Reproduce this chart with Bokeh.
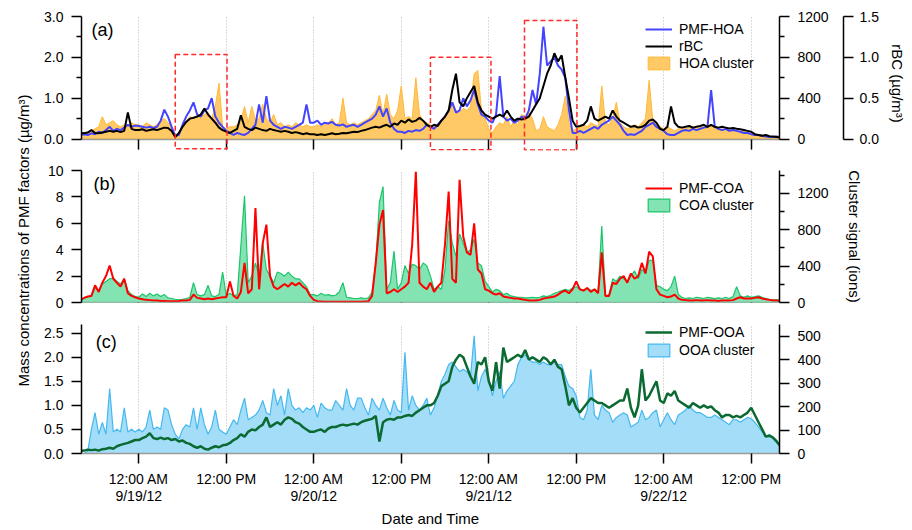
import numpy as np
from bokeh.plotting import figure
from bokeh.models import (Range1d, LinearAxis, FixedTicker, PrintfTickFormatter,
                          Legend, LegendItem, BoxAnnotation, Label)
from bokeh.layouts import column, row
from bokeh.embed import file_html
from bokeh.resources import INLINE

FONT = "Liberation Sans"

# ---------------- data (hours after 2012-09-18 00:00, 30-min steps) ----------------
T_START, T_STEP = 16.0, 0.5

PMF_HOA = [  # ug/m3
    0.10,0.12,0.10,0.14,0.12,0.18,0.15,0.22,0.30,0.20,0.25,0.22,0.28,0.35,0.30,0.33,
    0.32,0.30,0.28,0.30,0.27,0.30,0.45,0.72,0.55,0.30,0.08,0.10,0.35,0.55,0.70,0.90,0.60,0.55,0.70,0.75,1.00,0.55,0.40,0.30,
    0.20,0.15,0.10,0.15,0.12,0.10,0.15,0.25,0.35,0.85,0.40,1.05,0.45,0.35,0.30,0.25,0.30,0.28,0.25,0.30,0.35,0.40,0.85,0.40,
    0.40,0.45,0.35,0.40,0.38,0.42,0.35,0.33,0.36,0.30,0.33,0.35,0.30,0.35,0.40,0.45,0.50,0.60,0.80,0.55,0.75,0.40,0.25,0.18,
    0.18,0.15,0.20,0.18,0.22,0.20,0.25,0.35,0.30,0.25,0.35,0.45,0.55,0.70,0.90,0.65,0.70,1.00,0.80,0.95,1.20,0.85,0.60,0.55,
    0.45,0.40,0.60,1.54,0.55,0.45,0.50,0.40,0.45,0.55,0.50,0.70,1.20,0.85,1.60,2.75,1.80,1.90,2.00,1.80,1.70,1.50,0.70,0.15,
    0.15,0.20,0.15,0.20,0.25,0.30,0.25,0.35,0.40,0.45,0.55,0.45,0.35,0.20,0.10,0.12,0.10,0.15,0.20,0.30,0.35,0.40,0.30,0.25,
    0.20,0.12,0.10,0.10,0.15,0.20,0.22,0.20,0.25,0.22,0.25,0.28,0.30,1.20,0.30,0.25,0.22,0.25,0.20,0.22,0.20,0.18,0.15,0.15,
    0.12,0.10,0.10,0.08,0.06,0.05,0.05,0.06,0.05]

RBC = [  # ug/m3
    0.075,0.07,0.08,0.11,0.075,0.07,0.08,0.09,0.10,0.09,0.10,0.085,0.10,0.325,0.125,0.11,
    0.11,0.12,0.10,0.11,0.12,0.11,0.125,0.14,0.135,0.10,0.025,0.075,0.15,0.21,0.25,0.26,0.275,0.30,0.375,0.30,0.25,0.20,0.14,0.11,
    0.09,0.075,0.10,0.125,0.29,0.15,0.125,0.11,0.14,0.125,0.11,0.10,0.125,0.11,0.10,0.09,0.10,0.09,0.075,0.085,0.075,0.06,0.07,0.06,
    0.06,0.05,0.06,0.05,0.06,0.07,0.06,0.065,0.075,0.07,0.08,0.09,0.085,0.10,0.11,0.125,0.14,0.15,0.14,0.16,0.175,0.15,0.19,0.175,
    0.225,0.20,0.24,0.21,0.225,0.26,0.225,0.175,0.15,0.175,0.16,0.225,0.275,0.35,0.60,0.80,0.45,0.40,0.50,0.575,0.65,0.45,0.35,0.30,
    0.275,0.25,0.275,0.30,0.275,0.35,0.275,0.225,0.25,0.24,0.25,0.275,0.35,0.425,0.50,0.65,0.80,0.90,1.05,0.95,1.025,0.75,0.50,0.225,
    0.15,0.16,0.175,0.225,0.40,0.25,0.225,0.25,0.275,0.25,0.35,0.275,0.225,0.20,0.175,0.15,0.16,0.14,0.15,0.175,0.225,0.24,0.20,0.125,
    0.11,0.15,0.40,0.20,0.15,0.14,0.15,0.16,0.14,0.15,0.16,0.175,0.15,0.175,0.15,0.14,0.15,0.14,0.13,0.135,0.125,0.12,0.11,0.10,
    0.09,0.06,0.05,0.04,0.05,0.035,0.03,0.025,0.02]

HOA_CLUSTER = [  # ions
    48,60,60,80,100,120,220,140,160,180,140,120,140,120,160,140,
    140,120,160,140,120,140,180,200,160,120,20,60,140,180,220,200,240,220,240,260,200,320,548,120,
    100,120,120,140,180,320,160,320,180,200,340,200,160,240,140,160,120,140,120,160,140,120,140,120,
    120,140,120,140,160,200,140,160,400,160,140,160,140,160,180,200,240,280,428,240,440,240,200,280,
    520,200,220,200,600,240,180,160,140,120,140,160,220,260,360,280,260,300,280,320,640,672,280,200,
    100,60,120,160,140,220,120,180,140,240,220,260,200,80,100,220,120,100,80,140,240,420,160,80,
    100,120,140,120,160,140,120,520,160,140,200,360,160,120,100,120,140,120,160,200,576,180,160,120,
    100,120,100,80,100,120,100,112,120,100,112,120,100,140,100,88,100,88,80,88,80,72,80,60,
    48,40,32,24,24,20,16,20,16]

PMF_COA = [  # ug/m3
    0.20,0.35,0.45,0.50,1.30,0.80,1.50,2.00,2.80,1.80,1.50,1.20,1.80,0.70,0.50,0.40,
    0.30,0.25,0.20,0.18,0.15,0.15,0.12,0.12,0.10,0.10,0.10,0.12,0.15,0.15,0.20,0.60,0.35,0.30,0.25,0.30,0.25,0.30,0.35,0.40,
    0.40,1.60,0.50,0.30,0.80,3.00,0.70,1.00,7.15,1.00,4.50,5.90,2.00,1.20,1.00,1.20,1.40,1.20,1.50,1.30,1.50,1.20,1.00,0.50,
    0.20,0.10,0.08,0.06,0.05,0.05,0.05,0.06,0.05,0.05,0.06,0.05,0.05,0.06,0.08,0.10,0.50,3.00,5.90,7.00,0.70,0.80,1.00,0.80,
    1.00,1.20,1.50,4.40,9.90,1.50,1.20,1.00,1.50,0.80,1.20,1.50,4.40,8.40,1.80,1.50,9.30,5.00,3.80,3.60,6.00,2.50,2.20,1.00,
    0.90,0.70,0.60,0.70,0.45,0.40,0.35,0.30,0.30,0.25,0.20,0.15,0.15,0.15,0.20,0.30,0.35,0.40,0.45,0.60,0.80,0.90,0.70,1.00,
    1.60,1.00,0.90,1.10,0.80,1.00,0.70,3.80,0.50,0.50,1.50,1.40,1.80,2.00,1.50,2.20,1.80,2.00,3.00,2.20,3.85,3.50,1.00,0.60,
    0.50,0.40,0.45,0.60,0.30,0.20,0.18,0.15,0.15,0.18,0.15,0.15,0.18,0.15,0.15,0.12,0.15,0.15,0.15,0.18,0.30,0.40,0.30,0.30,
    0.30,0.35,0.40,0.30,0.25,0.20,0.15,0.15,0.12]

COA_CLUSTER = [  # ions
    29,51,65,73,160,131,203,232,261,268,232,203,261,131,87,65,
    58,94,65,102,73,94,65,87,51,44,36,29,36,44,58,218,87,73,87,189,73,65,87,334,
    73,102,73,87,624,1175,218,290,435,290,653,363,290,218,334,319,290,334,290,261,261,218,174,87,
    87,73,102,80,87,73,80,116,218,58,51,44,44,51,44,51,116,435,1102,1276,145,218,566,145,
    218,406,319,421,406,363,435,406,290,145,174,145,363,899,653,508,754,653,551,580,696,435,406,232,
    174,116,145,131,87,102,73,65,58,58,51,51,58,51,58,73,65,80,102,116,131,145,131,160,
    174,145,131,160,131,145,116,842,73,87,261,232,290,261,232,290,348,261,363,319,464,464,189,174,
    145,131,174,290,87,58,44,51,44,58,51,44,58,51,44,51,44,58,44,65,174,73,58,73,
    58,65,73,58,44,36,29,29,22]

PMF_OOA = [  # ug/m3
    0.05,0.06,0.08,0.07,0.08,0.06,0.09,0.10,0.12,0.10,0.15,0.18,0.20,0.22,0.25,0.28,
    0.28,0.32,0.35,0.42,0.32,0.30,0.33,0.30,0.32,0.28,0.30,0.25,0.27,0.22,0.20,0.15,0.12,0.15,0.10,0.08,0.12,0.15,0.13,0.17,
    0.18,0.22,0.28,0.32,0.40,0.35,0.45,0.50,0.48,0.55,0.60,0.75,0.55,0.60,0.65,0.60,0.70,0.75,0.72,0.65,0.62,0.55,0.50,0.45,
    0.45,0.48,0.50,0.45,0.52,0.55,0.55,0.58,0.60,0.58,0.60,0.62,0.60,0.65,0.68,0.70,0.72,0.78,0.25,0.65,0.70,0.72,0.70,0.75,
    0.75,0.78,0.80,0.78,0.85,0.90,0.95,1.00,1.00,1.05,1.20,1.40,1.45,1.50,1.80,1.95,2.05,2.00,1.80,1.60,1.45,1.90,1.85,2.00,
    1.50,1.30,1.90,1.35,2.20,1.90,1.95,2.00,2.05,2.00,2.15,1.95,2.00,1.95,1.90,2.00,1.95,1.85,1.95,1.80,1.75,1.40,1.00,1.15,
    0.95,0.85,0.95,1.05,1.15,1.10,1.05,1.05,1.00,0.95,1.00,1.05,1.10,1.10,1.35,0.95,0.75,1.00,1.75,1.10,1.20,1.35,1.50,1.10,
    1.05,1.25,1.20,1.30,1.10,1.05,1.00,0.95,1.05,1.00,0.95,1.00,0.95,0.98,0.90,0.85,0.75,0.80,0.80,0.75,0.78,0.75,0.80,0.85,
    0.95,0.80,0.65,0.50,0.35,0.37,0.33,0.25,0.15]

OOA_CLUSTER = [  # ions
    0,0,10,103,174,82,133,82,277,92,103,92,195,92,103,92,
    103,92,113,185,103,113,103,195,185,123,82,62,103,123,113,195,103,195,123,82,113,185,103,92,
    82,113,144,123,185,236,144,154,164,185,226,174,164,277,205,246,164,277,205,185,195,174,195,185,
    205,154,215,195,185,185,226,205,185,277,205,185,236,236,195,164,236,205,185,236,195,164,226,185,
    174,431,185,246,205,185,205,236,164,195,246,308,338,379,390,369,349,359,349,328,502,267,328,359,
    318,246,308,349,236,267,287,308,379,410,420,400,390,390,379,390,379,379,390,379,379,328,287,277,
    246,154,144,185,359,164,144,205,185,174,133,154,164,174,164,113,123,133,185,144,154,174,185,113,
    144,174,144,123,164,174,185,205,185,174,174,164,154,154,164,154,144,133,123,144,144,133,144,154,
    148,133,113,92,72,82,62,45,31]

TICK_HOURS = [24, 36, 48, 60, 72, 84, 96, 108]
TICK_LABELS = ["12:00 AM\n9/19/12", "12:00 PM", "12:00 AM\n9/20/12", "12:00 PM",
               "12:00 AM\n9/21/12", "12:00 PM", "12:00 AM\n9/22/12", "12:00 PM"]
X_START, X_END = 16.14, 111.88
# highlighted periods in panel (a): start hour, end hour, top, bottom (left-axis units)
BOX_START = [29.0, 64.0, 76.9]
BOX_END = [36.1, 72.3, 84.1]
BOX_TOP = [2.07, 2.0, 2.9]
BOX_BOTTOM = [-0.24, -0.26, -0.27]

n = len(PMF_HOA)
for arr in (RBC, HOA_CLUSTER, PMF_COA, COA_CLUSTER, PMF_OOA, OOA_CLUSTER):
    assert len(arr) == n, len(arr)
hours = T_START + T_STEP * np.arange(n)
area_x = np.concatenate([[hours[0]], hours, [hours[-1]]])


def area_y(vals):
    return np.concatenate([[0], vals, [0]])


# ---------------- colours ----------------
C_HOA = "#4444ff"
C_HOA_FILL, C_HOA_EDGE = "#ffc965", "#ffb838"
C_COA = "#ff0000"
C_COA_FILL, C_COA_EDGE = "#84e3b3", "#1dc46b"
C_OOA = "#0b6a31"
C_OOA_FILL, C_OOA_EDGE = "#a3ddf8", "#45b8ef"

FIG_W = 874


def style_axis(ax):
    ax.axis_line_color = "black"
    ax.axis_line_width = 1.5
    ax.major_tick_line_color = "black"
    ax.major_tick_line_width = 1.5
    ax.major_tick_out = 10
    ax.major_tick_in = 0
    ax.minor_tick_line_color = "black"
    ax.minor_tick_line_width = 1.5
    ax.minor_tick_out = 5
    ax.minor_tick_in = 0
    ax.major_label_text_font = FONT
    ax.major_label_text_font_size = "14px"
    ax.major_label_text_color = "black"
    ax.major_label_standoff = 8
    ax.axis_label_text_font = FONT
    ax.axis_label_text_font_size = "15px"
    ax.axis_label_text_font_style = "normal"
    ax.axis_label_text_color = "black"


def make_panel(height, b_top, b_bottom, y_start, y_end, show_x_labels=False):
    p = figure(width=FIG_W, height=height, x_range=Range1d(X_START, X_END),
               y_range=Range1d(y_start, y_end), output_backend="svg", toolbar_location=None,
               min_border_left=43, min_border_right=133, min_border_top=b_top,
               min_border_bottom=b_bottom)
    p.outline_line_color = None
    p.ygrid.visible = False
    p.xgrid.ticker = FixedTicker(ticks=TICK_HOURS)
    p.xgrid.grid_line_color = "#b4b4b4"
    p.xgrid.grid_line_dash = "1 2"
    p.xgrid.grid_line_width = 1
    xa = p.xaxis[0]
    style_axis(xa)
    xa.ticker = FixedTicker(ticks=TICK_HOURS)
    xa.axis_line_color = "#9a9a9a"
    xa.minor_tick_line_color = None
    if show_x_labels:
        xa.major_label_overrides = {h: t for h, t in zip(TICK_HOURS, TICK_LABELS)}
        xa.major_label_standoff = 7
        xa.major_label_text_line_height = 1.1
    else:
        xa.major_label_overrides = {h: "" for h in TICK_HOURS}
        xa.major_label_standoff = 0
        xa.fixed_location = 0
    style_axis(p.yaxis[0])
    return p


def make_legend(p, items, vy, spacing):
    leg = Legend(items=items, location=(564, vy), border_line_color=None,
                 background_fill_alpha=0, padding=0, margin=0, spacing=spacing,
                 glyph_width=27, glyph_height=16, label_height=16, label_standoff=7,
                 label_text_font=FONT, label_text_font_size="14px", label_text_color="black")
    p.add_layout(leg)


def panel_tag(p, x, y, text):
    p.add_layout(Label(x=x, y=y, text=text, text_baseline="top", text_align="left",
                       text_font=FONT, text_font_size="18px", text_color="black"))


# ---------------- panel (a) ----------------
pa = make_panel(160, 16, 10, -0.28, 3.0)
pa.extra_y_ranges = {"ions": Range1d(-0.28 * 400, 1200), "rbc": Range1d(-0.28 * 0.5, 1.5)}
pa.yaxis[0].ticker = FixedTicker(ticks=[0, 1, 2, 3], minor_ticks=[0.5, 1.5, 2.5])
pa.yaxis[0].formatter = PrintfTickFormatter(format="%.1f")
pa.yaxis[0].bounds = (0, 3)

ax_ions_a = LinearAxis(y_range_name="ions", bounds=(0, 1200))
style_axis(ax_ions_a)
ax_ions_a.ticker = FixedTicker(ticks=[0, 400, 800, 1200], minor_ticks=[200, 600, 1000])
ax_ions_a.axis_label = " "
ax_ions_a.axis_label_text_font_size = "7px"
ax_ions_a.axis_label_standoff = 2
pa.add_layout(ax_ions_a, "right")

ax_rbc = LinearAxis(y_range_name="rbc", axis_label="rBC (µg/m³)", bounds=(0, 1.5))
style_axis(ax_rbc)
ax_rbc.ticker = FixedTicker(ticks=[0, 0.5, 1.0, 1.5])
ax_rbc.formatter = PrintfTickFormatter(format="%.1f")
ax_rbc.axis_label_standoff = 7
ax_rbc.major_label_standoff = 6
pa.add_layout(ax_rbc, "right")

r_hoa_area = pa.patch(area_x, area_y(HOA_CLUSTER), fill_color=C_HOA_FILL,
                      line_color=C_HOA_EDGE, line_width=1, y_range_name="ions")
r_hoa = pa.line(hours, PMF_HOA, line_color=C_HOA, line_width=2)
r_rbc = pa.line(hours, RBC, line_color="black", line_width=2, y_range_name="rbc")
for x0, x1, yt, yb in zip(BOX_START, BOX_END, BOX_TOP, BOX_BOTTOM):
    pa.add_layout(BoxAnnotation(left=x0, right=x1, top=yt, bottom=yb, fill_color=None,
                                line_color="#ff2a2a", line_alpha=1.0, line_width=1.5,
                                line_dash="5 3"))
make_legend(pa, [LegendItem(label="PMF-HOA", renderers=[r_hoa]),
                 LegendItem(label="rBC", renderers=[r_rbc]),
                 LegendItem(label="HOA cluster", renderers=[r_hoa_area])], 79, 1)
panel_tag(pa, 17.5, 2.92, "(a)")

# ---------------- panel (b) ----------------
pb = make_panel(154, 10, 12, 0, 10)
pb.extra_y_ranges = {"ions": Range1d(0, 1453)}
pb.yaxis[0].ticker = FixedTicker(ticks=[0, 2, 4, 6, 8, 10])
ax_ions_b = LinearAxis(y_range_name="ions", axis_label="Cluster signal (ions)")
style_axis(ax_ions_b)
ax_ions_b.ticker = FixedTicker(ticks=[0, 400, 800, 1200], minor_ticks=[200, 600, 1000, 1400])
ax_ions_b.axis_label_standoff = 14
pb.add_layout(ax_ions_b, "right")

r_coa_area = pb.patch(area_x, area_y(COA_CLUSTER), fill_color=C_COA_FILL,
                      line_color=C_COA_EDGE, line_width=1.2, y_range_name="ions")
r_coa = pb.line(hours, PMF_COA, line_color=C_COA, line_width=2)
make_legend(pb, [LegendItem(label="PMF-COA", renderers=[r_coa]),
                 LegendItem(label="COA cluster", renderers=[r_coa_area])], 89, 1)
panel_tag(pb, 17.8, 9.77, "(b)")

# ---------------- panel (c) ----------------
pc = make_panel(216, 10, 76, 0, 2.68, show_x_labels=True)
pc.extra_y_ranges = {"ions": Range1d(0, 550)}
pc.yaxis[0].ticker = FixedTicker(ticks=[0, 0.5, 1.0, 1.5, 2.0, 2.5])
pc.yaxis[0].formatter = PrintfTickFormatter(format="%.1f")
pc.xaxis[0].axis_label = "Date and Time"
pc.xaxis[0].axis_label_standoff = 3
ax_ions_c = LinearAxis(y_range_name="ions")
style_axis(ax_ions_c)
ax_ions_c.ticker = FixedTicker(ticks=[0, 100, 200, 300, 400, 500])
pc.add_layout(ax_ions_c, "right")

r_ooa_area = pc.patch(area_x, area_y(OOA_CLUSTER), fill_color=C_OOA_FILL,
                      line_color=C_OOA_EDGE, line_width=1.2, y_range_name="ions")
r_ooa = pc.line(hours, PMF_OOA, line_color=C_OOA, line_width=2.5)
make_legend(pc, [LegendItem(label="PMF-OOA", renderers=[r_ooa]),
                 LegendItem(label="OOA cluster", renderers=[r_ooa_area])], 95, 2)
panel_tag(pc, 18.1, 2.52, "(c)")

# ---------------- shared left label ----------------
lab = figure(width=38, height=530, x_range=Range1d(0, 38), y_range=Range1d(0, 530),
             output_backend="svg", toolbar_location=None, min_border=0,
             x_axis_location=None, y_axis_location=None)
lab.outline_line_color = None
lab.grid.visible = False
lab.add_layout(Label(x=23, y=290, text="Mass concentrations of PMF factors (µg/m³)",
                     angle=np.pi / 2, text_align="center", text_baseline="middle",
                     text_font=FONT, text_font_size="15px", text_color="black"))

layout = row(lab, column(pa, pb, pc))
open("out.html", "w").write(file_html(layout, INLINE))
